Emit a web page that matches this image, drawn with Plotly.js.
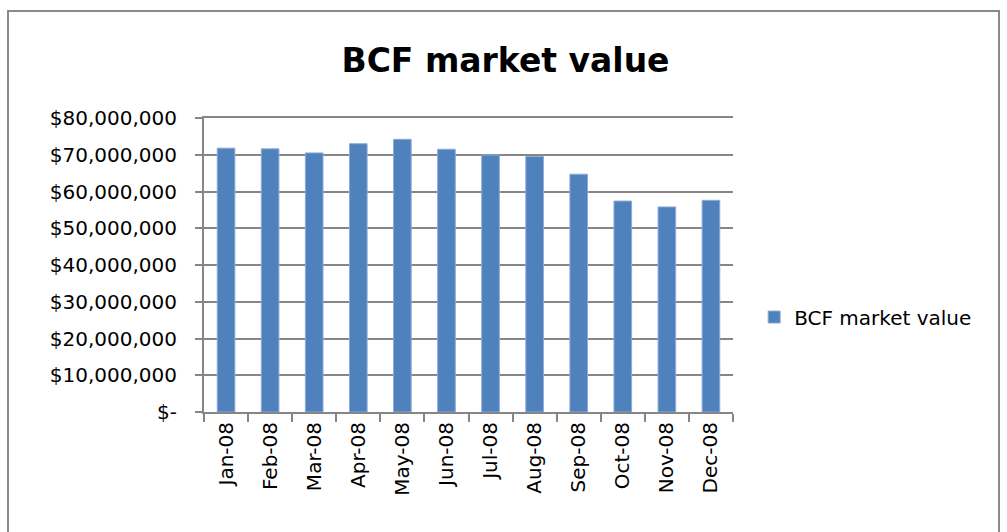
<!DOCTYPE html>
<html>
<head>
<meta charset="utf-8">
<script src="https://cdn.plot.ly/plotly-3.0.1.min.js"></script>
<style>
  html, body { margin: 0; padding: 0; background: #fff; overflow: hidden; }
  #chart { width: 1007px; height: 532px; }
  #frame { position: absolute; left: 7px; top: 10px; width: 993px; height: 560px;
           border: 2px solid #8a8a8a; pointer-events: none; box-sizing: border-box; }
</style>
</head>
<body>
<div id="chart"></div>
<div id="frame"></div>
<script>
const categories = ["Jan-08","Feb-08","Mar-08","Apr-08","May-08","Jun-08","Jul-08","Aug-08","Sep-08","Oct-08","Nov-08","Dec-08"];
const marketValue = [71800000, 71600000, 70500000, 73000000, 74200000, 71500000, 69900000, 69500000, 64700000, 57400000, 55800000, 57600000];
const yTickVals = [0, 10000000, 20000000, 30000000, 40000000, 50000000, 60000000, 70000000, 80000000];
const yTickText = ["$-", "$10,000,000", "$20,000,000", "$30,000,000", "$40,000,000", "$50,000,000", "$60,000,000", "$70,000,000", "$80,000,000"];
const seriesName = "BCF market value";
const chartTitle = "BCF market value";

const font = "DejaVu Sans, sans-serif";
const trace = {
  type: "bar",
  x: categories,
  y: marketValue,
  name: seriesName,
  marker: { color: "#4F81BD", line: { color: "#8eaad6", width: 1 } },
  showlegend: true
};

const layout = {
  width: 1007, height: 532,
  margin: { l: 204, r: 274, t: 118, b: 120 },
  paper_bgcolor: "#ffffff", plot_bgcolor: "#ffffff",
  font: { family: font, size: 20, color: "#000" },
  title: { text: chartTitle, font: { family: font, size: 33, color: "#000", weight: "bold" },
           x: 0.502, xref: "container", y: 0.887, yref: "container", yanchor: "middle" },
  bargap: 0.6,
  xaxis: {
    type: "category",
    tickangle: -90,
    ticks: "outside", tickson: "boundaries", ticklen: 8, tickcolor: "#868686", tickwidth: 2,
    showline: true, linecolor: "#868686", linewidth: 2, mirror: true,
    showgrid: false,
    tickfont: { family: font, size: 20, color: "#000" },
    automargin: false
  },
  yaxis: {
    range: [0, 80000000],
    tickmode: "array", tickvals: yTickVals, ticktext: yTickText,
    ticks: "outside", ticklen: 7, tickcolor: "#868686", tickwidth: 2,
    ticklabelstandoff: 14,
    showline: true, linecolor: "#868686", linewidth: 2,
    showgrid: true, gridcolor: "#868686", gridwidth: 2,
    zeroline: false,
    tickfont: { family: font, size: 20, color: "#000" },
    automargin: false
  },
  legend: {
    x: 1.040, xanchor: "left", y: 0.323, yanchor: "middle",
    font: { family: font, size: 20, color: "#000" },
    bgcolor: "rgba(0,0,0,0)", itemwidth: 30
  }
};

Plotly.newPlot("chart", [trace], layout, { staticPlot: true, displayModeBar: false });
</script>
</body>
</html>
